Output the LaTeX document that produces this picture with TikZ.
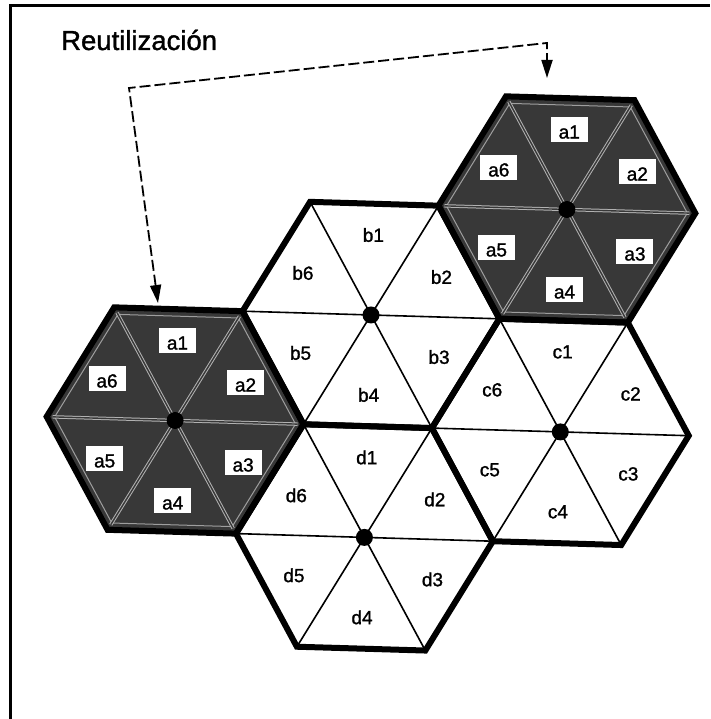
\documentclass[tikz,border=0pt]{standalone}
\usepackage{fontspec}
\setmainfont[FakeBold=1.3]{Liberation Sans}
\usetikzlibrary{arrows.meta}
\begin{document}
\begin{tikzpicture}[x=1pt,y=1pt,
  hexborder/.style={line width=6pt,line join=miter},
  whitecell/.style={fill=white},
  darkcell/.style={fill=black!78},
  spoke/.style={line width=1.6pt},
  darkspoke/.style={draw=black!30,line width=1pt,double=black!78,double distance=1.4pt},
  innerline/.style={draw=black!38,line width=1pt},
  lbl/.style={inner sep=0pt,font=\fontsize{19}{19}\selectfont},
  abox/.style={fill=white,inner sep=0pt,minimum width=37pt,minimum height=25pt,text height=18pt,text depth=0pt,font=\fontsize{19}{19}\selectfont},
  cdot/.style={circle,fill=black,inner sep=0pt,minimum size=17pt},
  reuse/.style={line width=1.8pt,dash pattern=on 11pt off 4pt,{Triangle[length=18pt,width=11pt]}-{Triangle[length=18pt,width=11pt]}},
  framel/.style={line width=3.5pt}
]
\def\R{128.5}
\useasboundingbox (0,0) rectangle (710,719);
\fill[white] (0,0) rectangle (710,719);
% frame
\draw[framel] (10.5,0) -- (10.5,713.3) -- (710,713.3);
% white cells
\foreach \n/\cx/\cy in {B/371/404,C/560.3/287.1,D/364.4/181.6}{
  \begin{scope}[shift={(\cx,\cy)},rotate=-1.7]
    \fill[whitecell] (0:\R) -- (60:\R) -- (120:\R) -- (180:\R) -- (240:\R) -- (300:\R) -- cycle;
    \foreach \a in {0,60,120}{\draw[spoke] (\a:\R) -- (\a+180:\R);}
  \end{scope}
}
% dark cells
\foreach \n/\cx/\cy in {Al/175.1/298.5,Ar/566.9/509.5}{
  \begin{scope}[shift={(\cx,\cy)},rotate=-1.7]
    \fill[darkcell] (0:\R) -- (60:\R) -- (120:\R) -- (180:\R) -- (240:\R) -- (300:\R) -- cycle;
    \draw[innerline] (0:\R-8) -- (60:\R-8) -- (120:\R-8) -- (180:\R-8) -- (240:\R-8) -- (300:\R-8) -- cycle;
    \foreach \a in {0,60,120}{\draw[darkspoke] (\a:\R-6) -- (\a+180:\R-6);}
  \end{scope}
}
% borders
\foreach \n/\cx/\cy in {B/371/404,C/560.3/287.1,D/364.4/181.6,Al/175.1/298.5,Ar/566.9/509.5}{
  \begin{scope}[shift={(\cx,\cy)},rotate=-1.7]
    \draw[hexborder] (0:\R) -- (60:\R) -- (120:\R) -- (180:\R) -- (240:\R) -- (300:\R) -- cycle;
    \node[cdot] (ctr\n) at (0,0) {};
  \end{scope}
}
% labels of white cells
\foreach \n/\lt/\cx/\cy in {B/b/371/404,C/c/560.3/287.1,D/d/364.4/181.6}{
  \begin{scope}[shift={(\cx,\cy)},rotate=-1.7]
    \foreach \i/\a in {1/90,2/30,3/-30,4/-90,5/-150,6/150}{\node[lbl] (\n\i) at (\a:80) {\lt\i};}
  \end{scope}
}
% labels of dark cells
\foreach \n/\cx/\cy in {Al/175.1/298.5,Ar/566.9/509.5}{
  \begin{scope}[shift={(\cx,\cy)},rotate=-1.7]
    \foreach \i/\a in {1/90,2/30,3/-30,4/-90,5/-150,6/150}{\node[abox] (\n\i) at (\a:80) {a\i};}
  \end{scope}
}
% title and reuse arrow
\node[anchor=base west,inner sep=0pt,font=\fontsize{27.5}{27.5}\selectfont] (title) at (61,669) {Reutilización};
\coordinate (tipL) at (158,416);
\coordinate (cornL) at (129,631);
\coordinate (cornR) at (547,676);
\coordinate (tipR) at (547,641);
\draw[reuse] (tipL) -- (cornL) -- (cornR) -- (tipR);
\end{tikzpicture}
\end{document}
